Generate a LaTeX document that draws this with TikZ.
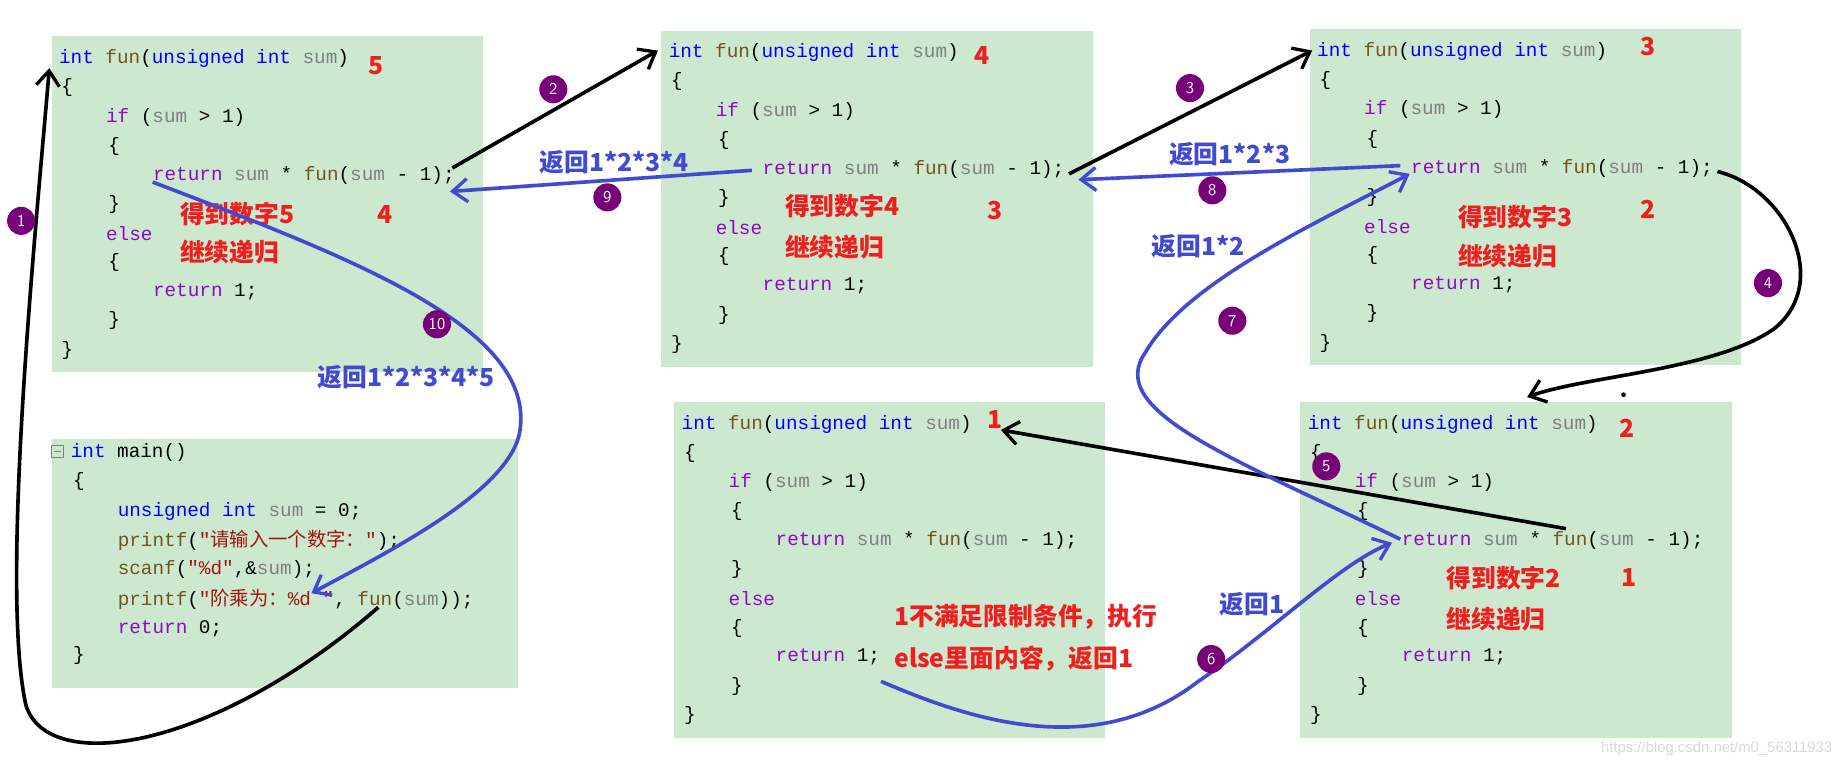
\documentclass[tikz,border=0pt]{standalone}
\usepackage{fontspec}
\setmainfont{Liberation Sans}
\setmonofont{Liberation Mono}
\newfontfamily\cjk{Noto Sans CJK SC}
\usetikzlibrary{arrows.meta}

\definecolor{codebg}{RGB}{204,232,207}
\definecolor{kwpurple}{RGB}{143,8,196}
\definecolor{tyblue}{RGB}{0,0,255}
\definecolor{fnbrown}{RGB}{116,83,31}
\definecolor{strred}{RGB}{163,21,21}
\definecolor{noteblue}{RGB}{65,75,210}
\definecolor{notered}{RGB}{240,30,30}
\definecolor{stepviolet}{RGB}{120,0,120}

\newcommand\kw[1]{\textcolor{kwpurple}{#1}}
\newcommand\ty[1]{\textcolor{tyblue}{#1}}
\newcommand\fn[1]{\textcolor{fnbrown}{#1}}
\newcommand\vr[1]{\textcolor{gray}{#1}}

\tikzset{
  code/.style = {anchor=west, inner sep=0pt, font=\ttfamily\fontsize{11.7}{14}\selectfont},
  rednote/.style = {anchor=west, inner sep=0pt, text=notered, font=\cjk\bfseries\fontsize{15}{18}\selectfont},
  bluenote/.style = {anchor=west, inner sep=0pt, text=noteblue, font=\cjk\bfseries\fontsize{15}{18}\selectfont},
  stepdot/.style = {circle, fill=stepviolet, text=white, inner sep=0pt, minimum size=17,
                    font=\sffamily\fontsize{10}{10}\selectfont},
  blackline/.style = {line width=2.2pt, -{Straight Barb[length=9pt,width=14pt,line width=2pt]}},
  blueline/.style = {line width=2.2pt, noteblue, -{Straight Barb[length=9pt,width=14pt,line width=2pt]}}
}

% code of fun(), lines from (#2,#3)
\newcommand\funcode[3]{%
  \fill[codebg] (#2-6,#3-19) rectangle ++(367,286);
  \node[code] (#1l0) at (#2,#3) {\ty{int} \fn{fun}(\ty{unsigned int} \vr{sum})};
  \node[code] (#1l1) at (#2+2,#3+24.8) {\{};
  \node[code] (#1l2) at (#2+40,#3+49.6) {\kw{if} (\vr{sum} > 1)};
  \node[code] (#1l3) at (#2+42,#3+74.4) {\{};
  \node[code] (#1l4) at (#2+80,#3+99.2) {\kw{return} \vr{sum} * \fn{fun}(\vr{sum} - 1);};
  \node[code] (#1l5) at (#2+42,#3+124) {\}};
  \node[code] (#1l6) at (#2+40,#3+148.8) {\kw{else}};
  \node[code] (#1l7) at (#2+42,#3+173.6) {\{};
  \node[code] (#1l8) at (#2+80,#3+198.4) {\kw{return} 1;};
  \node[code] (#1l9) at (#2+42,#3+223.2) {\}};
  \node[code] (#1l10) at (#2+2,#3+248) {\}};
}

\begin{document}
\begin{tikzpicture}[x=0.025cm, y=-0.025cm]
\useasboundingbox (0,0) rectangle (1568,653);

\funcode{a}{50}{50}
\funcode{b}{569}{45}
\funcode{c}{1121}{44}
\funcode{d}{580}{361}
\funcode{e}{1113}{361}

% main()
\fill[codebg] (44,374) rectangle (441,586);
\node[code] (m0) at (60,385) {\ty{int} main()};
\draw[gray] (44,379) rectangle ++(10,10);
\draw[gray] (46,384) -- ++(6,0);
\node[code] (m1) at (62,410) {\{};
\node[code] (m2) at (100,435) {\ty{unsigned int} \vr{sum} = 0;};
\node[code] (m3) at (100,460) {\fn{printf}(\textcolor{strred}{"{\cjk 请输入一个数字：}"});};
\node[code] (m4) at (100,485) {\fn{scanf}(\textcolor{strred}{"\%d"},\&\vr{sum});};
\node[code] (m5) at (100,510) {\fn{printf}(\textcolor{strred}{"{\cjk 阶乘为：}\%d "}, \fn{fun}(\vr{sum}));};
\node[code] (m6) at (100,535) {\kw{return} 0;};
\node[code] (m7) at (62,558) {\}};

% numbers and notes
\node[rednote] (a5) at (313,56) {5};
\node[rednote] (a4) at (321,183) {4};
\node[rednote] (anote1) at (153,182) {得到数字5};
\node[rednote] (anote2) at (153,215) {继续递归};
\node[rednote] (b4) at (829,47) {4};
\node[rednote] (b3) at (840,179) {3};
\node[rednote] (bnote1) at (668,175) {得到数字4};
\node[rednote] (bnote2) at (668,210) {继续递归};
\node[rednote] (c3) at (1396,40) {3};
\node[rednote] (c2) at (1396,178) {2};
\node[rednote] (cnote1) at (1241,185) {得到数字3};
\node[rednote] (cnote2) at (1241,218) {继续递归};
\node[rednote] (d1) at (840,357) {1};
\node[rednote] (dnote1) at (761,525) {1不满足限制条件，执行};
\node[rednote] (dnote2) at (761,561) {else里面内容，返回1};
\node[rednote] (e2) at (1378,365) {2};
\node[rednote] (e1) at (1380,492) {1};
\node[rednote] (enote1) at (1231,492) {得到数字2};
\node[rednote] (enote2) at (1231,527) {继续递归};

\node[bluenote] (r6) at (1038,514) {返回1};
\node[bluenote] (r7) at (980,210) {返回1*2};
\node[bluenote] (r8) at (995,131) {返回1*2*3};
\node[bluenote] (r9) at (459,138) {返回1*2*3*4};
\node[bluenote] (r10) at (270,321) {返回1*2*3*4*5};

% connector ends
\coordinate (callmain) at (322,517);
\coordinate (topa) at (42,58);
\coordinate (calla) at (385,143);
\coordinate (topb) at (560,43);
\coordinate (callb) at (910,148);
\coordinate (topc) at (1117,43);
\coordinate (callc) at (1462,146);
\coordinate (tope) at (1300,338);
\coordinate (calle) at (1333,450);
\coordinate (topd) at (852,366);
\coordinate (retd) at (750,580);
\coordinate (rete) at (1192,459);
\coordinate (hite) at (1185,462);
\coordinate (hitc) at (1200,148);
\coordinate (retc) at (1192,141);
\coordinate (hitb) at (918,153);
\coordinate (retb) at (640,145);
\coordinate (hita) at (383,163);
\coordinate (reta) at (130,155);
\coordinate (hitmain) at (265,505);

% calls
\draw[blackline] (callmain) .. controls (180,640) and (40,660) .. (22,600)
   .. controls (0,500) and (30,200) .. (topa);
\draw[blackline] (calla) -- (topb);
\draw[blackline] (callb) -- (topc);
\draw[blackline] (callc) .. controls (1520,160) and (1560,240) .. (1510,280)
   .. controls (1460,315) and (1350,320) .. (tope);
\draw[blackline] (calle) -- (topd);
\fill (1382,336) circle (2);

% returns
\draw[blueline] (retd) .. controls (820,610) and (930,650) .. (1020,580)
   .. controls (1080,540) and (1140,480) .. (hite);
\draw[blueline] (rete) .. controls (1050,390) and (940,350) .. (975,300)
   .. controls (1010,240) and (1120,190) .. (hitc);
\draw[blueline] (retc) -- (hitb);
\draw[blueline] (retb) -- (hita);
\draw[blueline] (reta) .. controls (300,220) and (460,280) .. (442,370)
   .. controls (430,420) and (330,470) .. (hitmain);

% step numbers
\node[stepdot] (s1) at (18,188) {1};
\node[stepdot] (s2) at (471,76) {2};
\node[stepdot] (s3) at (1013,75) {3};
\node[stepdot] (s4) at (1505,241) {4};
\node[stepdot] (s5) at (1129,397) {5};
\node[stepdot] (s6) at (1031,561) {6};
\node[stepdot] (s7) at (1049,273) {7};
\node[stepdot] (s8) at (1032,162) {8};
\node[stepdot] (s9) at (517,168) {9};
\node[stepdot] (s10) at (372,276) {10};

\node[anchor=east, inner sep=0pt, text=black!15, font=\fontsize{9}{10}\selectfont] (mark) at (1560,637) {https://blog.csdn.net/m0\_56311933};
\end{tikzpicture}
\end{document}
